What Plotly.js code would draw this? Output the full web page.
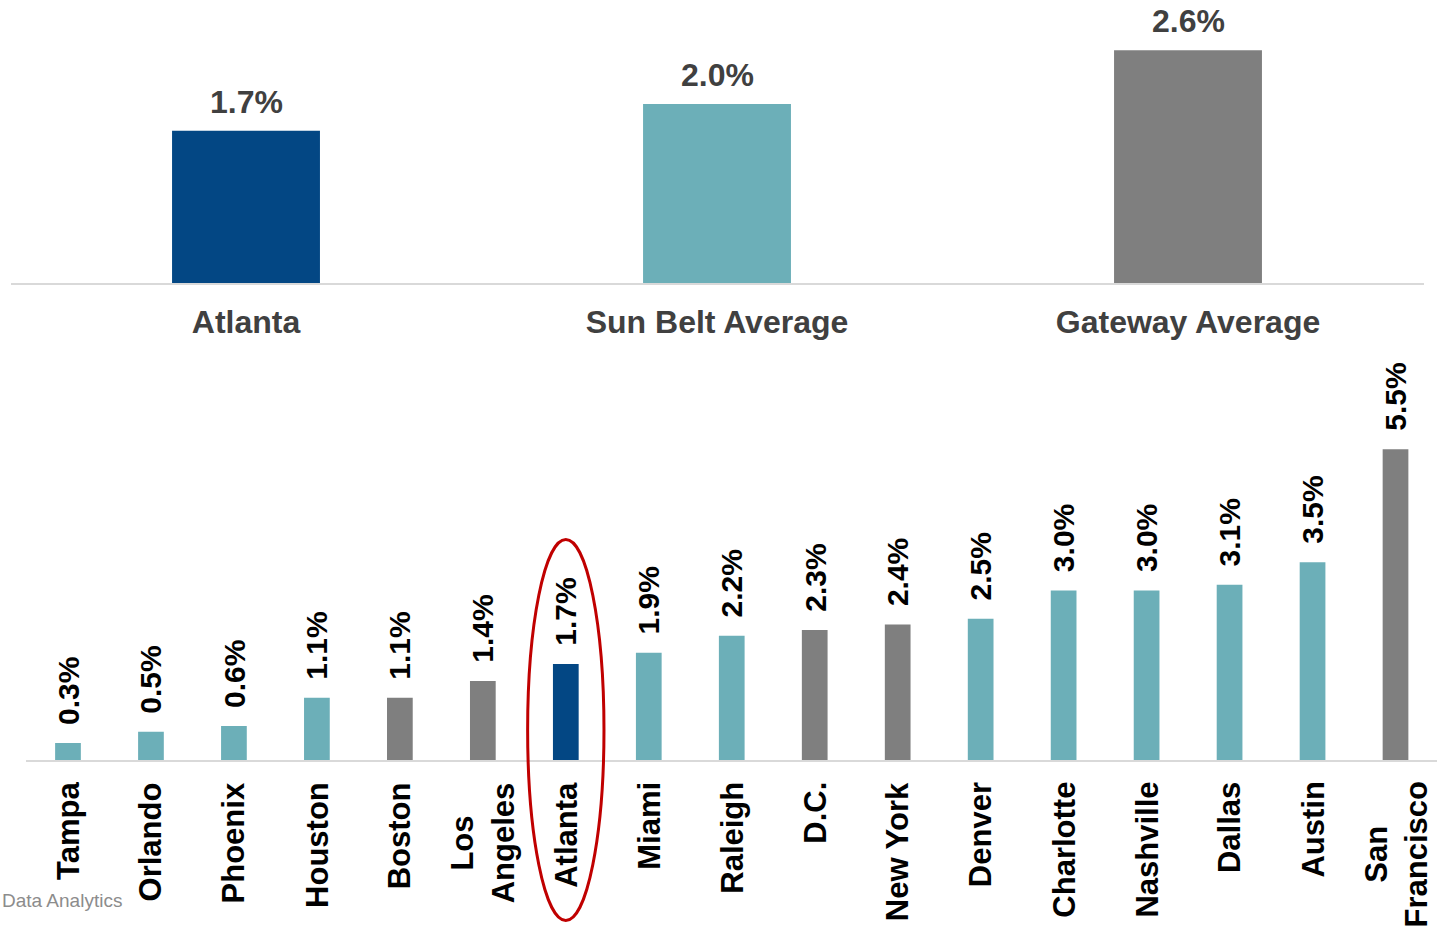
<!DOCTYPE html>
<html><head><meta charset="utf-8">
<script src="https://cdn.plot.ly/plotly-3.0.1.min.js"></script>
<style>html,body{margin:0;padding:0;background:#fff;overflow:hidden}#chart{width:1437px;height:928px}</style>
</head><body><div id="chart"></div>
<script>
// ---- data ----
const summaryLabels = ['Atlanta', 'Sun Belt Average', 'Gateway Average'];
const summaryValues = [1.7, 2.0, 2.6];
const summaryGroups = ['Atlanta', 'Sun Belt', 'Gateway'];

const cityNames  = ['Tampa','Orlando','Phoenix','Houston','Boston','Los Angeles','Atlanta','Miami','Raleigh','D.C.','New York','Denver','Charlotte','Nashville','Dallas','Austin','San Francisco'];
const cityLabels = ['Tampa','Orlando','Phoenix','Houston','Boston','Los<br>Angeles','Atlanta','Miami','Raleigh','D.C.','New York','Denver','Charlotte','Nashville','Dallas','Austin','San<br>Francisco'];
const cityValues = [0.3, 0.5, 0.6, 1.1, 1.1, 1.4, 1.7, 1.9, 2.2, 2.3, 2.4, 2.5, 3.0, 3.0, 3.1, 3.5, 5.5];
const cityGroups = ['Sun Belt','Sun Belt','Sun Belt','Sun Belt','Gateway','Gateway','Atlanta','Sun Belt','Sun Belt','Gateway','Gateway','Sun Belt','Sun Belt','Sun Belt','Sun Belt','Sun Belt','Gateway'];
const highlightCity = 'Atlanta';
const sourceNote = 'Data Analytics';

// ---- styles ----
const groupColors = {'Atlanta': '#034784', 'Sun Belt': '#6CAFB8', 'Gateway': '#7F7F7F'};
const FONT = 'Liberation Sans, Arial, Helvetica, sans-serif';
const fmt = v => v.toFixed(1) + '%';

const traces = [
  {
    type: 'bar', x: summaryLabels, y: summaryValues, xaxis: 'x', yaxis: 'y',
    width: 0.314, marker: {color: summaryGroups.map(g => groupColors[g])},
    hoverinfo: 'skip', showlegend: false
  },
  {
    type: 'bar', x: cityNames, y: cityValues, xaxis: 'x2', yaxis: 'y2',
    width: 0.31, marker: {color: cityGroups.map(g => groupColors[g])},
    hoverinfo: 'skip', showlegend: false
  }
];

const annotations = [];
summaryLabels.forEach((c, i) => annotations.push({
  xref: 'x', yref: 'y', x: c, y: summaryValues[i], text: fmt(summaryValues[i]),
  showarrow: false, xanchor: 'center', yanchor: 'bottom', yshift: 9,
  font: {family: FONT, size: 32, color: '#404040', weight: 'bold'}
}));
cityNames.forEach((c, i) => {
  annotations.push({
    xref: 'x2', yref: 'y2', x: c, y: cityValues[i], text: fmt(cityValues[i]),
    showarrow: false, textangle: -90, xanchor: 'center', yanchor: 'bottom', yshift: 16,
    font: {family: FONT, size: 30, color: '#000000', weight: 'bold'}
  });
  annotations.push({
    xref: 'x2', yref: 'y2', x: c, y: 0, text: cityLabels[i],
    showarrow: false, textangle: -90, xanchor: 'center', yanchor: 'top', yshift: -20, align: 'center',
    font: {family: FONT, size: 31, color: '#000000', weight: 'bold'}
  });
});
annotations.push({
  xref: 'paper', yref: 'paper', x: 0.0863, y: 0.0291, text: sourceNote,
  showarrow: false, xanchor: 'right', yanchor: 'middle',
  font: {family: FONT, size: 19, color: '#8C8C8C'}
});

const hi = cityNames.indexOf(highlightCity);

const layout = {
  width: 1437, height: 928,
  margin: {l: 0, r: 0, t: 0, b: 0},
  paper_bgcolor: '#ffffff', plot_bgcolor: '#ffffff',
  font: {family: FONT},
  showlegend: false,
  xaxis: {
    domain: [0.00731, 0.99061], range: [-0.5, 2.5], type: 'category',
    showline: true, linecolor: '#D9D9D9', linewidth: 2, ticks: '', showgrid: false,
    ticklabelstandoff: 10,
    tickfont: {family: FONT, size: 32, color: '#404040', weight: 'bold'}, fixedrange: true
  },
  yaxis: {domain: [0.69504, 1], range: [0, 3.162], visible: false, fixedrange: true},
  xaxis2: {
    domain: [0.01844, 1], range: [-0.5, 16.5], type: 'category', anchor: 'y2',
    showline: true, linecolor: '#D9D9D9', linewidth: 2, ticks: '', showgrid: false,
    showticklabels: false, fixedrange: true
  },
  yaxis2: {domain: [0.18103, 0.63362], range: [0, 7.434], anchor: 'x2', visible: false, fixedrange: true},
  annotations: annotations,
  shapes: [{
    type: 'circle', xref: 'x2', yref: 'paper',
    x0: hi - 0.46, x1: hi + 0.46, y0: 0.0081, y1: 0.4186,
    line: {color: '#C00000', width: 3}, fillcolor: 'rgba(0,0,0,0)', layer: 'above'
  }]
};

Plotly.newPlot('chart', traces, layout, {displayModeBar: false, staticPlot: true});
</script>
</body></html>
